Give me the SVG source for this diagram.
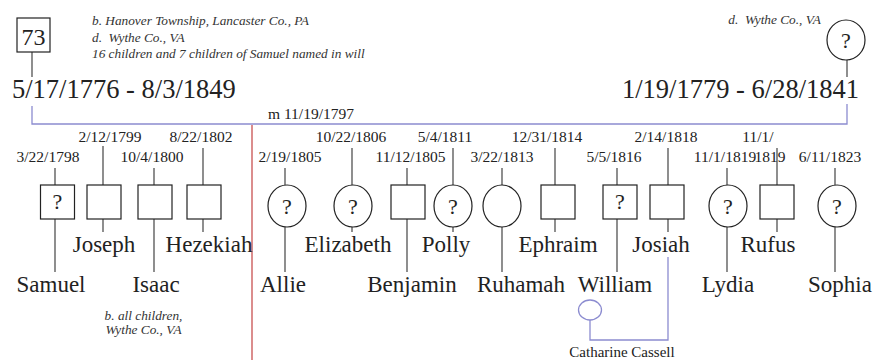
<svg xmlns="http://www.w3.org/2000/svg" width="890" height="360" viewBox="0 0 890 360" font-family="'Liberation Serif', 'DejaVu Serif', serif">
<style>
text{font-family:'Liberation Serif','DejaVu Serif',serif;fill:#222}
.note{font-size:13.3px;font-style:italic;fill:#333}
.big{font-size:26.5px}
.date{font-size:15.5px;text-anchor:middle}
.name{font-size:23px;text-anchor:middle}
.q{font-size:22px;text-anchor:middle}
.shape{fill:#fff;stroke:#222;stroke-width:1.2}
.ln{stroke:#444;stroke-width:1.2;fill:none}
.sp{stroke:#8c8cd0;stroke-width:1.3;fill:none}
.red{stroke:#c85050;stroke-width:1.3}
</style>
<g id="connectors">
  <line class="ln" x1="32" y1="52" x2="32" y2="77"/>
  <line class="ln" x1="847" y1="60" x2="847" y2="77"/>
  <polyline class="sp" points="32,106 32,124 847,124 847,104"/>
  <line class="red" x1="252" y1="125" x2="252" y2="360"/>
  <line class="ln" x1="55" y1="168" x2="55" y2="185"/><line class="ln" x1="55" y1="219" x2="55" y2="272"/>
  <line class="ln" x1="103" y1="146" x2="103" y2="185"/><line class="ln" x1="103" y1="219" x2="103" y2="232"/>
  <line class="ln" x1="154" y1="168" x2="154" y2="185"/><line class="ln" x1="154" y1="219" x2="154" y2="272"/>
  <line class="ln" x1="203" y1="148" x2="203" y2="185"/><line class="ln" x1="203" y1="219" x2="203" y2="232"/>
  <line class="ln" x1="285" y1="168" x2="285" y2="185"/><line class="ln" x1="285" y1="227" x2="285" y2="272"/>
  <line class="ln" x1="352" y1="148" x2="352" y2="185"/><line class="ln" x1="352" y1="227" x2="352" y2="232"/>
  <line class="ln" x1="407" y1="168" x2="407" y2="185"/><line class="ln" x1="407" y1="219" x2="407" y2="272"/>
  <line class="ln" x1="453" y1="148" x2="453" y2="185"/><line class="ln" x1="453" y1="227" x2="453" y2="232"/>
  <line class="ln" x1="502" y1="168" x2="502" y2="185"/><line class="ln" x1="502" y1="227" x2="502" y2="272"/>
  <line class="ln" x1="555" y1="148" x2="555" y2="185"/><line class="ln" x1="555" y1="219" x2="555" y2="232"/>
  <line class="ln" x1="617" y1="168" x2="617" y2="185"/><line class="ln" x1="617" y1="219" x2="617" y2="272"/>
  <line class="ln" x1="668" y1="148" x2="668" y2="185"/><line class="ln" x1="668" y1="219" x2="668" y2="232"/>
  <line class="ln" x1="727" y1="168" x2="727" y2="185"/><line class="ln" x1="727" y1="227" x2="727" y2="272"/>
  <line class="ln" x1="777" y1="148" x2="777" y2="185"/><line class="ln" x1="777" y1="219" x2="777" y2="232"/>
  <line class="ln" x1="835" y1="168" x2="835" y2="185"/><line class="ln" x1="835" y1="227" x2="835" y2="272"/>
  <polyline class="sp" points="590,320 590,340 668,340 668,257"/>
</g>
<g id="father">
  <rect class="shape" x="17" y="18" width="33" height="34"/>
  <text x="33.5" y="45" font-size="24" text-anchor="middle">73</text>
  <text class="big" x="12" y="98">5/17/1776 - 8/3/1849</text>
  <text class="note" x="92" y="25">b. Hanover Township, Lancaster Co., PA</text>
  <text class="note" x="92" y="42" xml:space="preserve">d.  Wythe Co., VA</text>
  <text class="note" x="92" y="58">16 children and 7 children of Samuel named in will</text>
</g>
<g id="mother">
  <ellipse class="shape" cx="846" cy="40" rx="19" ry="20"/>
  <text class="q" x="846" y="48">?</text>
  <text class="big" x="859" y="98" text-anchor="end">1/19/1779 - 6/28/1841</text>
  <text class="note" x="821" y="24" text-anchor="end" xml:space="preserve">d.  Wythe Co., VA</text>
</g>
<g id="marriage">
  <text x="268" y="119" font-size="15.5">m 11/19/1797</text>
</g>
<g id="note-children">
  <text class="note" x="143.5" y="320" text-anchor="middle">b. all children,</text>
  <text class="note" x="143.5" y="334" text-anchor="middle">Wythe Co., VA</text>
</g>
<g id="samuel">
  <rect class="shape" x="40.5" y="185" width="34" height="34"/>
  <text class="q" x="57.5" y="209">?</text>
  <text class="date" x="48" y="162">3/22/1798</text>
  <text class="name" x="51" y="292">Samuel</text>
</g>
<g id="joseph">
  <rect class="shape" x="87" y="185" width="34" height="34"/>
  <text class="date" x="110" y="142">2/12/1799</text>
  <text class="name" x="104" y="252">Joseph</text>
</g>
<g id="isaac">
  <rect class="shape" x="138" y="185" width="34" height="34"/>
  <text class="date" x="152" y="162">10/4/1800</text>
  <text class="name" x="156" y="292">Isaac</text>
</g>
<g id="hezekiah">
  <rect class="shape" x="187" y="185" width="34" height="34"/>
  <text class="date" x="201" y="142">8/22/1802</text>
  <text class="name" x="209" y="252">Hezekiah</text>
</g>
<g id="allie">
  <ellipse class="shape" cx="287" cy="206" rx="19" ry="21"/>
  <text class="q" x="287" y="214">?</text>
  <text class="date" x="290" y="162">2/19/1805</text>
  <text class="name" x="283" y="292">Allie</text>
</g>
<g id="elizabeth">
  <ellipse class="shape" cx="353" cy="206" rx="19" ry="21"/>
  <text class="q" x="353" y="214">?</text>
  <text class="date" x="351" y="142">10/22/1806</text>
  <text class="name" x="348" y="252">Elizabeth</text>
</g>
<g id="benjamin">
  <rect class="shape" x="391" y="185" width="34" height="34"/>
  <text class="date" x="410.5" y="162">11/12/1805</text>
  <text class="name" x="412" y="292">Benjamin</text>
</g>
<g id="polly">
  <ellipse class="shape" cx="453" cy="206" rx="19" ry="21"/>
  <text class="q" x="453" y="214">?</text>
  <text class="date" x="445" y="142">5/4/1811</text>
  <text class="name" x="446" y="252">Polly</text>
</g>
<g id="ruhamah">
  <ellipse class="shape" cx="502" cy="206" rx="19" ry="21"/>
  <text class="date" x="502" y="162">3/22/1813</text>
  <text class="name" x="521" y="292">Ruhamah</text>
</g>
<g id="ephraim">
  <rect class="shape" x="541" y="185" width="34" height="34"/>
  <text class="date" x="547" y="142">12/31/1814</text>
  <text class="name" x="558" y="252">Ephraim</text>
</g>
<g id="william">
  <rect class="shape" x="603" y="185" width="34" height="34"/>
  <text class="q" x="620" y="209">?</text>
  <text class="date" x="614" y="162">5/5/1816</text>
  <text class="name" x="615" y="292">William</text>
</g>
<g id="josiah">
  <rect class="shape" x="650" y="185" width="34" height="34"/>
  <text class="date" x="666" y="142">2/14/1818</text>
  <text class="name" x="661" y="252">Josiah</text>
</g>
<g id="lydia">
  <ellipse class="shape" cx="728" cy="206" rx="19" ry="21"/>
  <text class="q" x="728" y="214">?</text>
  <text class="date" x="725" y="162">11/1/1819</text>
  <text class="name" x="728" y="292">Lydia</text>
</g>
<g id="rufus">
  <rect class="shape" x="760" y="185" width="34" height="34"/>
  <text class="date" x="758" y="142">11/1/</text>
  <text class="date" x="770" y="162">1819</text>
  <text class="name" x="768" y="252">Rufus</text>
</g>
<g id="sophia">
  <ellipse class="shape" cx="837" cy="206" rx="19" ry="21"/>
  <text class="q" x="837" y="214">?</text>
  <text class="date" x="830" y="162">6/11/1823</text>
  <text class="name" x="840" y="292">Sophia</text>
</g>
<g id="catharine">
  <ellipse cx="590" cy="310" rx="11.5" ry="10" fill="#fff" stroke="#8c8cd0" stroke-width="1.3"/>
  <text x="622" y="357" font-size="15" text-anchor="middle">Catharine Cassell</text>
</g>
</svg>
